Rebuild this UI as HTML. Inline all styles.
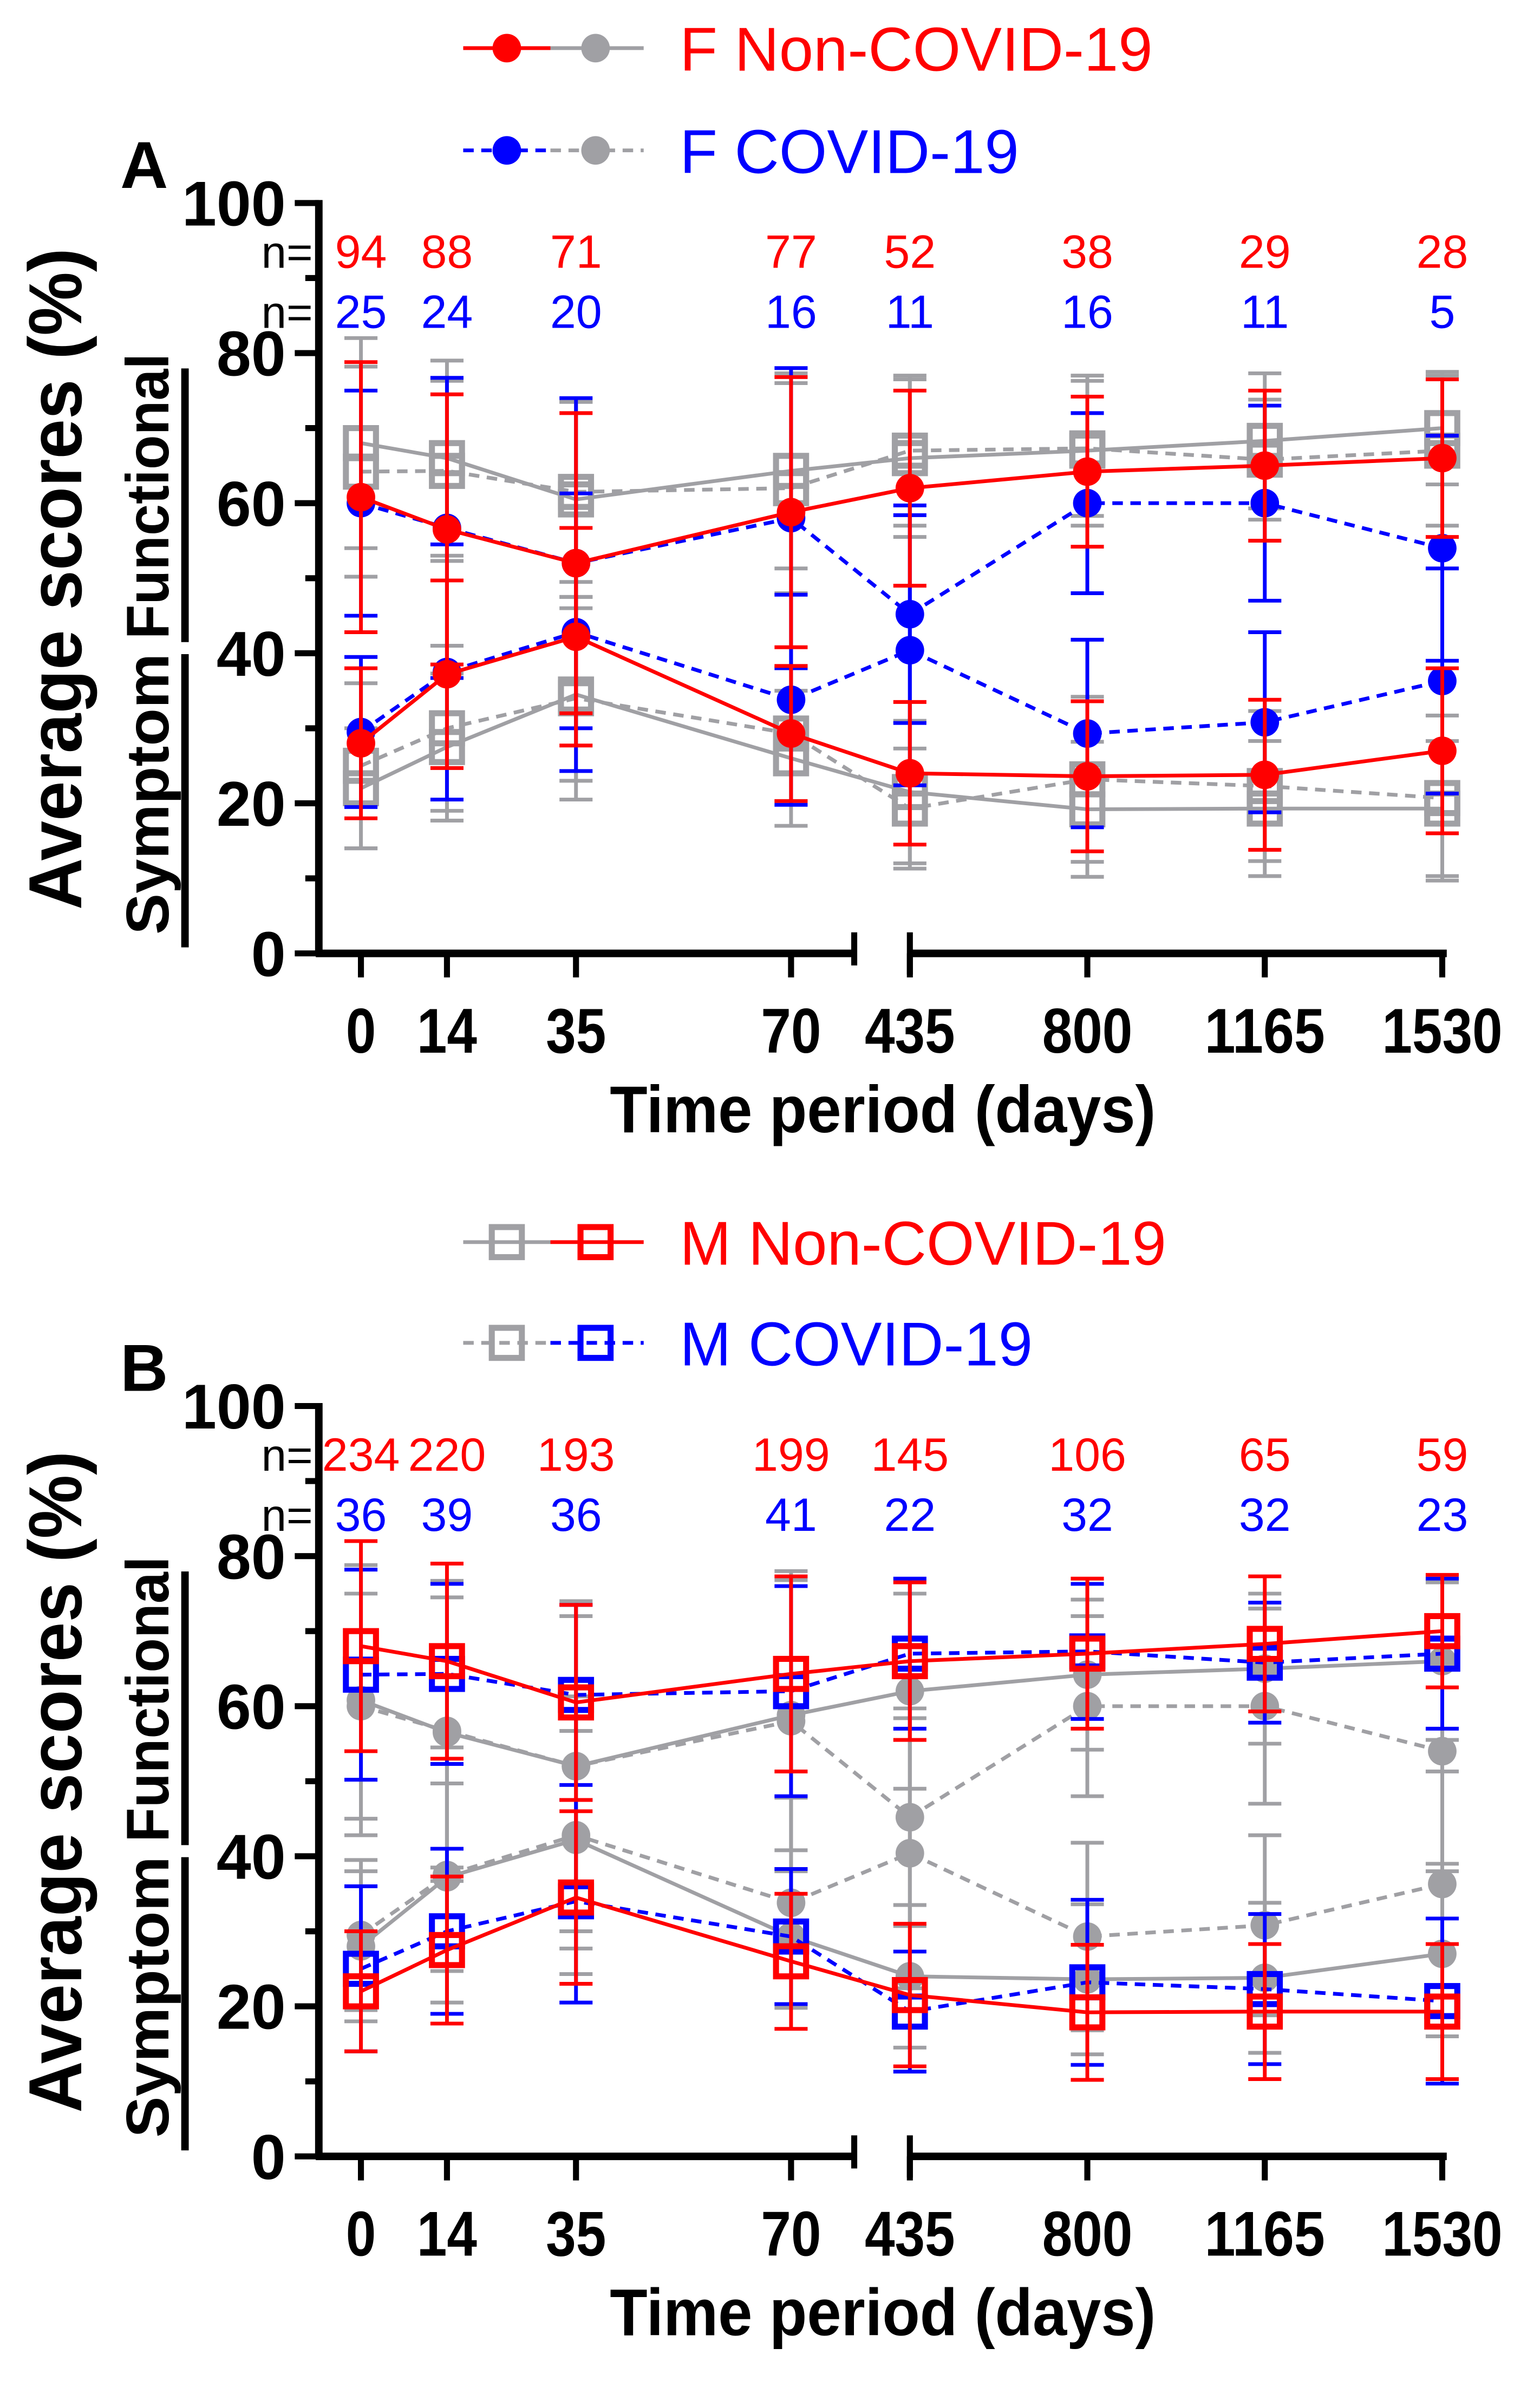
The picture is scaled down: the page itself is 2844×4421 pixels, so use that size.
<!DOCTYPE html>
<html><head><meta charset="utf-8">
<style>
html,body{margin:0;padding:0;background:#fff;}
svg{display:block;}
text{font-family:"Liberation Sans",Arial,sans-serif;}
</style></head>
<body>
<svg id="chart" width="2844" height="4421" viewBox="0 0 1024 1592" preserveAspectRatio="none" xmlns="http://www.w3.org/2000/svg"></svg>
<script>
const days=[0,14,35,70,435,800,1165,1530];
const tickLabels=['0','14','35','70','435','800','1165','1530'];
const yTicks=[0,20,40,60,80,100];
// Female non-COVID
const fNonFunc=[60.8,56.5,52,58.8,62,64.2,65,66];
const fNonFuncErr=[18,18,20,18,13,10,10,10.5];
const fNonSym=[28,37.2,42.2,29.3,24,23.6,23.8,27];
const fNonSymErr=[10,12.5,14.5,9,9.5,10,10,11];
// Female COVID
const fCovFunc=[60,56.7,52,58,45.2,60,60,54];
const fCovFuncErr=[15,20,22,20,14.5,12,13,15];
const fCovSym=[29.5,37.5,42.8,33.8,40.4,29.3,30.8,36.3];
const fCovSymErr=[10,17,18.5,14,18,12.5,12,15];
// Male non-COVID
const mNonFunc=[68,66,60.5,64.3,66,67,68.3,70];
const mNonFuncErr=[14,13,13,13,10.5,10,9,7.5];
const mNonSym=[22,27.5,34.5,26,21.5,19.2,19.3,19.3];
const mNonSymErr=[8,9.8,11.5,9,9.5,9,9,9];
// Male COVID
const mCovFunc=[64.2,64.3,61.5,62,67,67.3,65.8,67];
const mCovFuncErr=[14,12,12,14,10,9,8,10];
const mCovSym=[25,30,34,29.3,19.3,23.2,22.3,20.7];
const mCovSymErr=[11,11,13.5,9,8,11,10,11];
// n counts
const nFNon=[94,88,71,77,52,38,29,28];
const nFCov=[25,24,20,16,11,16,11,5];
const nMNon=[234,220,193,199,145,106,65,59];
const nMCov=[36,39,36,41,22,32,32,23];

const RED='#ff0000',BLUE='#0000ff',GRAY='#a0a0a4';
const NS='http://www.w3.org/2000/svg';
const svg=document.getElementById('chart');
function el(tag,attrs,parent,txt){const e=document.createElementNS(NS,tag);for(const k in attrs)e.setAttribute(k,attrs[k]);if(txt!==undefined)e.textContent=txt;(parent||svg).appendChild(e);return e;}
function xs(d){return d<=70?240+d*(286/70):605+(d-435)*(354/1095);}
function ys(v,top){return top+499*(1-v/100);}

function marker(g,type,x,y,color){
  let m;
  if(type==='circle'){m=el('circle',{cx:x,cy:y,r:9.5,fill:color},g);}
  else{m=el('rect',{x:x-10,y:y-10,width:20,height:20,fill:'none',stroke:color,'stroke-width':4},g);}
  
  
}
function drawSeries(top,vals,errs,color,dashed,type,name){
  const g=el('g',{},svg);
  
  
  vals.forEach((v,i)=>{
    const x=xs(days[i]),y1=ys(v+errs[i],top),y2=ys(v-errs[i],top);
    el('line',{x1:x,x2:x,y1:y1,y2:y2,stroke:color,'stroke-width':2.5},g);
    el('line',{x1:x-11,x2:x+11,y1:y1,y2:y1,stroke:color,'stroke-width':2.5},g);
    el('line',{x1:x-11,x2:x+11,y1:y2,y2:y2,stroke:color,'stroke-width':2.5},g);
  });
  const pts=vals.map((v,i)=>xs(days[i])+','+ys(v,top)).join(' ');
  const pl=el('polyline',{points:pts,fill:'none',stroke:color,'stroke-width':2.5},g);
  if(dashed)pl.setAttribute('stroke-dasharray','7,5');
  vals.forEach((v,i)=>marker(g,type,xs(days[i]),ys(v,top),color));
}

function axes(top,letter,nTop,nBot){
  const g=el('g',{},svg);
  
  
  const bot=top+499;
  el('line',{x1:212,x2:212,y1:top-2,y2:bot+2,stroke:'#000','stroke-width':5},g);
  for(let v=0;v<=100;v+=10){
    const y=ys(v,top);const major=v%20===0;
    el('line',{x1:major?196:203,x2:212,y1:y,y2:y,stroke:'#000','stroke-width':4},g);
  }
  yTicks.forEach(v=>{const s=String(v);const t=el('text',{x:190,y:ys(v,top)+15,'text-anchor':'end','font-size':42,'font-weight':'bold',textLength:s.length*23,lengthAdjust:'spacingAndGlyphs'},g,s);
    });
  el('line',{x1:210,x2:568,y1:bot,y2:bot,stroke:'#000','stroke-width':5},g);
  el('line',{x1:568,x2:568,y1:bot-14,y2:bot+8,stroke:'#000','stroke-width':4},g);
  el('line',{x1:605,x2:962,y1:bot,y2:bot,stroke:'#000','stroke-width':5},g);
  el('line',{x1:605,x2:605,y1:bot-14,y2:bot+14,stroke:'#000','stroke-width':4},g);
  days.forEach((d,i)=>{const x=xs(d);
    el('line',{x1:x,x2:x,y1:bot,y2:bot+16,stroke:'#000','stroke-width':4},g);
    const s=tickLabels[i];
    const t=el('text',{x:x,y:bot+66,'text-anchor':'middle','font-size':42,'font-weight':'bold',textLength:s.length*20,lengthAdjust:'spacingAndGlyphs'},g,s);
    
  });
  const xt=el('text',{x:587,y:bot+119,'text-anchor':'middle','font-size':44,'font-weight':'bold',textLength:363,lengthAdjust:'spacingAndGlyphs'},g,'Time period (days)');
  
  const yt=el('text',{x:0,y:0,'text-anchor':'middle','font-size':50,'font-weight':'bold',textLength:440,lengthAdjust:'spacingAndGlyphs',transform:`translate(54,${top+250}) rotate(-90)`},g,'Average scores (%)');
  
  const ft=el('text',{x:0,y:0,'text-anchor':'middle','font-size':40,'font-weight':'bold',textLength:190,lengthAdjust:'spacingAndGlyphs',transform:`translate(112,${top+195}) rotate(-90)`},g,'Functional');
  
  const st=el('text',{x:0,y:0,'text-anchor':'middle','font-size':40,'font-weight':'bold',textLength:187,lengthAdjust:'spacingAndGlyphs',transform:`translate(112,${top+393}) rotate(-90)`},g,'Symptom');
  
  el('line',{x1:123,x2:123,y1:top+110,y2:top+292,stroke:'#000','stroke-width':5},g);
  el('line',{x1:123,x2:123,y1:top+300,y2:top+495,stroke:'#000','stroke-width':5},g);
  const lt=el('text',{x:80,y:top-10,'font-size':44,'font-weight':'bold'},g,letter);
  
  el('text',{x:208,y:top+43,'text-anchor':'end','font-size':30},g,'n=');
  el('text',{x:208,y:top+83,'text-anchor':'end','font-size':30},g,'n=');
  days.forEach((d,i)=>{
    const a=el('text',{x:xs(d),y:top+43,'text-anchor':'middle','font-size':31,fill:RED},g,String(nTop[i]));
    
    const b=el('text',{x:xs(d),y:top+83,'text-anchor':'middle','font-size':31,fill:BLUE},g,String(nBot[i]));
    
  });
}

function legendRow(y,c1,c2,dashed,type,label,tcolor,name){
  const g=el('g',{},svg);
  
  
  const l1=el('line',{x1:308,x2:366,y1:y,y2:y,stroke:c1,'stroke-width':2.5},g);
  const l2=el('line',{x1:366,x2:428,y1:y,y2:y,stroke:c2,'stroke-width':2.5},g);
  if(dashed){l1.setAttribute('stroke-dasharray','7,5');l2.setAttribute('stroke-dasharray','7,5');}
  marker(g,type,337,y,c1);
  marker(g,type,396,y,c2);
  el('text',{x:452,y:y+15,'font-size':41,fill:tcolor},g,label);
}

const TA=135,TB=935;
axes(TA,'A',nFNon,nFCov);
drawSeries(TA,mNonFunc,mNonFuncErr,GRAY,false,'square','m-non-covid-functional-gray');
drawSeries(TA,mNonSym,mNonSymErr,GRAY,false,'square','m-non-covid-symptom-gray');
drawSeries(TA,mCovFunc,mCovFuncErr,GRAY,true,'square','m-covid-functional-gray');
drawSeries(TA,mCovSym,mCovSymErr,GRAY,true,'square','m-covid-symptom-gray');
drawSeries(TA,fCovFunc,fCovFuncErr,BLUE,true,'circle','f-covid-functional');
drawSeries(TA,fCovSym,fCovSymErr,BLUE,true,'circle','f-covid-symptom');
drawSeries(TA,fNonFunc,fNonFuncErr,RED,false,'circle','f-non-covid-functional');
drawSeries(TA,fNonSym,fNonSymErr,RED,false,'circle','f-non-covid-symptom');
legendRow(32,RED,GRAY,false,'circle','F Non-COVID-19',RED,'legend-f-non-covid');
legendRow(100,BLUE,GRAY,true,'circle','F COVID-19',BLUE,'legend-f-covid');

axes(TB,'B',nMNon,nMCov);
drawSeries(TB,fNonFunc,fNonFuncErr,GRAY,false,'circle','f-non-covid-functional-gray');
drawSeries(TB,fNonSym,fNonSymErr,GRAY,false,'circle','f-non-covid-symptom-gray');
drawSeries(TB,fCovFunc,fCovFuncErr,GRAY,true,'circle','f-covid-functional-gray');
drawSeries(TB,fCovSym,fCovSymErr,GRAY,true,'circle','f-covid-symptom-gray');
drawSeries(TB,mCovFunc,mCovFuncErr,BLUE,true,'square','m-covid-functional');
drawSeries(TB,mCovSym,mCovSymErr,BLUE,true,'square','m-covid-symptom');
drawSeries(TB,mNonFunc,mNonFuncErr,RED,false,'square','m-non-covid-functional');
drawSeries(TB,mNonSym,mNonSymErr,RED,false,'square','m-non-covid-symptom');
legendRow(826,GRAY,RED,false,'square','M Non-COVID-19',RED,'legend-m-non-covid');
legendRow(893,GRAY,BLUE,true,'square','M COVID-19',BLUE,'legend-m-covid');
</script>
</body></html>
